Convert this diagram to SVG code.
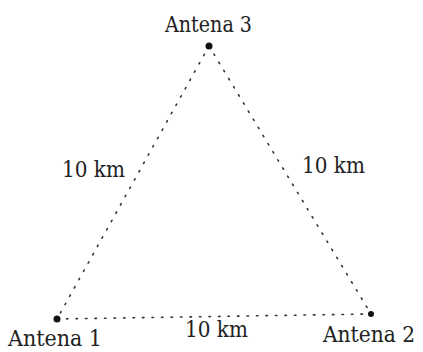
<svg xmlns="http://www.w3.org/2000/svg" width="423" height="352" viewBox="0 0 423 352">
<style>
.lbl{font-family:'DejaVu Serif',serif;font-size:22px;fill:#222}
.edge{stroke:#333;stroke-width:1.6;stroke-dasharray:1.5 8;stroke-linecap:round;fill:none}
.dot{fill:#111}
</style>
<rect width="423" height="352" fill="#fff"/>
<g id="connectors">
<line class="edge" x1="209" y1="46" x2="57" y2="319"/>
<line class="edge" x1="209" y1="46" x2="371" y2="314"/>
<line class="edge" x1="57" y1="319" x2="371" y2="314"/>
<text class="lbl" x="62" y="177" textLength="63" lengthAdjust="spacingAndGlyphs">10 km</text>
<text class="lbl" x="302" y="173" textLength="63" lengthAdjust="spacingAndGlyphs">10 km</text>
<text class="lbl" x="185" y="337" textLength="63" lengthAdjust="spacingAndGlyphs">10 km</text>
</g>
<g id="antena3">
<circle class="dot" cx="209" cy="46" r="3.5"/>
<text class="lbl" x="165" y="32" textLength="87" lengthAdjust="spacingAndGlyphs">Antena 3</text>
</g>
<g id="antena1">
<circle class="dot" cx="57" cy="319" r="3.5"/>
<text class="lbl" x="8" y="346" textLength="94" lengthAdjust="spacingAndGlyphs">Antena 1</text>
</g>
<g id="antena2">
<circle class="dot" cx="371" cy="314" r="3"/>
<text class="lbl" x="323" y="342" textLength="92" lengthAdjust="spacingAndGlyphs">Antena 2</text>
</g>
</svg>
